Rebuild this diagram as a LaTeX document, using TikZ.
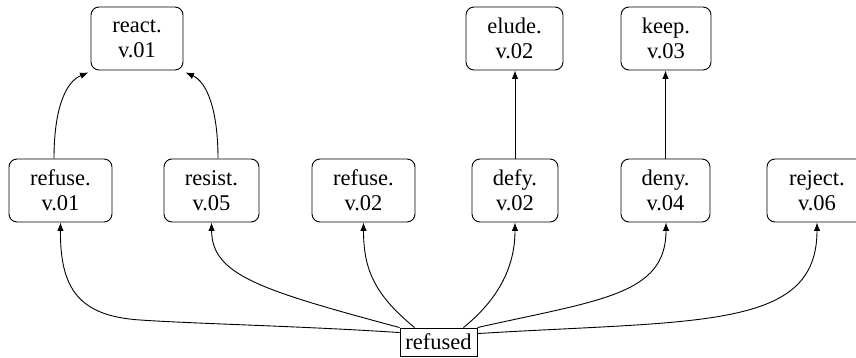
\documentclass[tikz,border=0pt]{standalone}
\usepackage{fontspec}
\setmainfont{Liberation Serif}
\usetikzlibrary{arrows.meta}
\begin{document}
\begin{tikzpicture}[x=1pt,y=-1pt,
  sense/.style={draw, rounded corners=8pt, line width=0.9pt, align=center, minimum height=63pt, inner sep=0pt, font=\fontsize{22.5}{25}\selectfont},
  word/.style={draw, line width=0.9pt, minimum height=28pt, minimum width=77pt, inner sep=0pt, font=\fontsize{22.5}{25}\selectfont},
  edge/.style={line width=0.9pt, -{Latex[length=8.5pt,width=6.5pt]}}]
\useasboundingbox (0,0) rectangle (856,358);
\node[sense, minimum width=92pt] (react) at (137,38.5) {react.\\v.01};
\node[sense, minimum width=97pt] (elude) at (514.5,38.5) {elude.\\v.02};
\node[sense, minimum width=90pt] (keep) at (666,38.5) {keep.\\v.03};
\node[sense, minimum width=103pt] (r1) at (60.5,190.5) {refuse.\\v.01};
\node[sense, minimum width=95pt] (resist) at (211.5,190.5) {resist.\\v.05};
\node[sense, minimum width=103pt] (r2) at (363.5,190.5) {refuse.\\v.02};
\node[sense, minimum width=86pt] (defy) at (515,190.5) {defy.\\v.02};
\node[sense, minimum width=89pt] (deny) at (665.5,190.5) {deny.\\v.04};
\node[sense, minimum width=100pt] (reject) at (817,190.5) {reject.\\v.06};
\node[word] (refused) at (438.5,342) {refused};
% bottom fan
\draw[edge] ([yshift=-5pt]refused.north west) .. controls (300,326) and (200,324) .. (140,320) .. controls (80,316) and (60,290) .. (r1.south);
\draw[edge] (refused.north west) .. controls (260,290) and (212,275) .. (resist.south);
\draw[edge] ([xshift=15pt]refused.north west) .. controls (375,295) and (363.5,270) .. (r2.south);
\draw[edge] ([xshift=-14pt]refused.north east) .. controls (500,298) and (515,265) .. (defy.south);
\draw[edge] (refused.north east) .. controls (600,300) and (666,295) .. ([xshift=0.5pt]deny.south);
\draw[edge] ([yshift=-6pt]refused.north east) .. controls (700,320) and (817,330) .. (reject.south);
% upper
\draw[edge] ([xshift=-6.5pt]r1.north) .. controls (54,110) and (65,82) .. ([shift={(-2pt,-2pt)}]react.south west);
\draw[edge] ([xshift=6.5pt]resist.north) .. controls (218,110) and (207,82) .. ([shift={(2pt,-2pt)}]react.south east);
\draw[edge] (defy.north) -- (defy.north |- elude.south);
\draw[edge] (deny.north) -- (deny.north |- keep.south);
\end{tikzpicture}
\end{document}
